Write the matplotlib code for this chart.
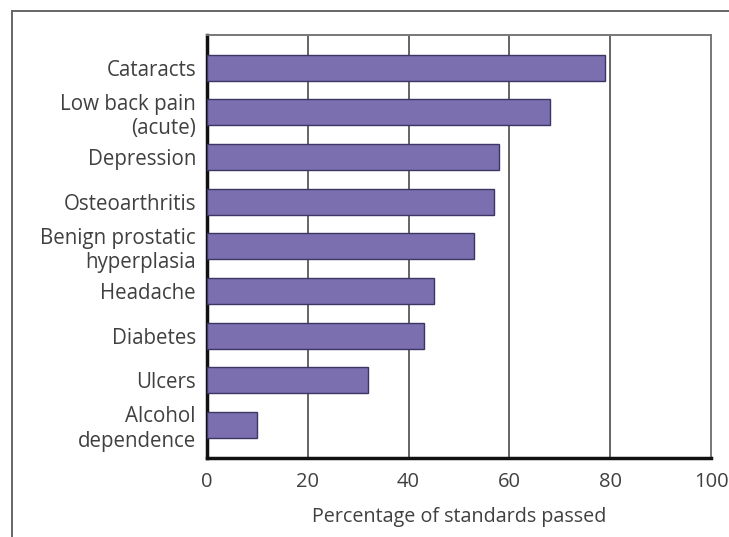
import matplotlib
matplotlib.use("Agg")
import matplotlib.pyplot as plt
from matplotlib.lines import Line2D

categories = ["Cataracts", "Low back pain\n(acute)", "Depression", "Osteoarthritis",
              "Benign prostatic\nhyperplasia", "Headache", "Diabetes", "Ulcers",
              "Alcohol\ndependence"]
values = [79, 68, 58, 57, 53, 45, 43, 32, 10]
xticks = [0, 20, 40, 60, 80, 100]
xlabel = "Percentage of standards passed"

plt.rcParams['font.family'] = ['Open Sans', 'DejaVu Sans']
txt = '#404040'

fig = plt.figure(figsize=(7.29, 5.37), dpi=100)
ax = fig.add_axes([207/729, 1-458/537, (711-207)/729, (458-35)/537])

ypos = list(range(len(categories)))
ax.barh(ypos, values, height=0.58, color='#7b6fb0', edgecolor='#3b3663', linewidth=1.0, zorder=3)
ax.set_ylim(len(categories) - 1 + 0.74, -0.73)
ax.set_xlim(0, 100)
ax.set_xticks(xticks)
ax.set_yticks(ypos)
ax.set_yticklabels(categories, fontsize=14.8, color=txt, linespacing=1.23)
ax.set_xticklabels([str(t) for t in xticks], fontsize=14.5, color=txt)
ax.tick_params(axis='both', length=0)
ax.tick_params(axis='y', pad=8)
ax.tick_params(axis='x', pad=10)
ax.set_xlabel(xlabel, fontsize=14.2, color=txt, labelpad=11)

for x in xticks[1:-1]:
    ax.axvline(x, color='#4a4a4a', linewidth=1.2, zorder=1)

ax.spines['left'].set_linewidth(2.5)
ax.spines['left'].set_color('#111111')
ax.spines['bottom'].set_linewidth(2.5)
ax.spines['bottom'].set_color('#111111')
ax.spines['top'].set_linewidth(1.4)
ax.spines['top'].set_color('#777777')
ax.spines['right'].set_linewidth(1.4)
ax.spines['right'].set_color('#777777')

# outer frame
fig.add_artist(Line2D([12/729, 1.0], [1-11/537, 1-11/537], transform=fig.transFigure, color='#666666', linewidth=1.4))
fig.add_artist(Line2D([12/729, 12/729], [1-11/537, 0.0], transform=fig.transFigure, color='#666666', linewidth=1.4))

fig.savefig("out.png", dpi=100)
